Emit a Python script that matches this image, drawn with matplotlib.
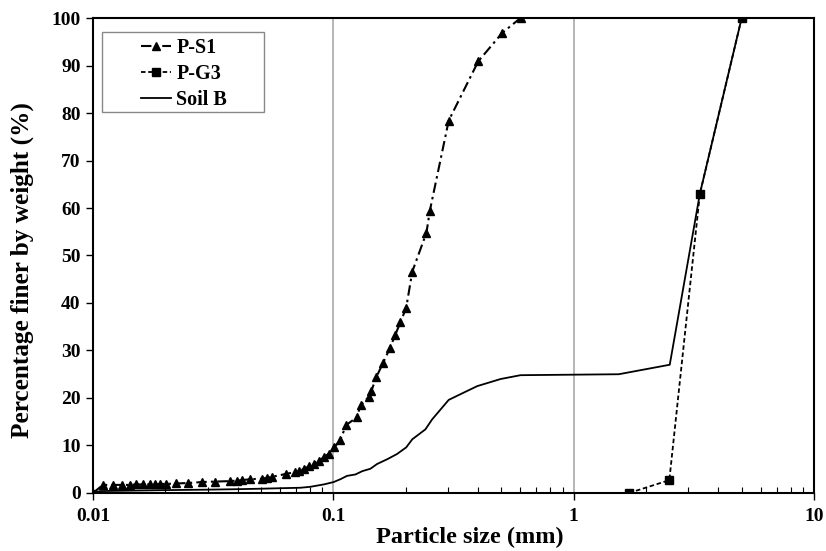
import matplotlib
matplotlib.use("Agg")
import matplotlib.pyplot as plt
from matplotlib.patches import Rectangle
from matplotlib.ticker import FixedLocator, LogLocator, NullFormatter, FixedFormatter

# ---- data ----
ps1_size = [0.01, 0.0110, 0.0121, 0.0132, 0.0142, 0.0151, 0.0161, 0.0172, 0.0181, 0.0190,
            0.0201, 0.0222, 0.0249, 0.0284, 0.0322, 0.0372, 0.0397, 0.0417, 0.0451, 0.0505,
            0.0529, 0.0555, 0.0633, 0.0694, 0.0717, 0.0752, 0.0789, 0.0828, 0.0869, 0.0912,
            0.0959, 0.101, 0.107, 0.113, 0.125, 0.130, 0.141, 0.144, 0.151, 0.161,
            0.172, 0.181, 0.190, 0.201, 0.213, 0.244, 0.252, 0.302, 0.401, 0.505, 0.601]
ps1_pass = [0.0, 1.7, 1.7, 1.7, 1.7, 1.8, 1.8, 1.8, 1.8, 1.9,
            1.9, 2.0, 2.1, 2.3, 2.4, 2.5, 2.6, 2.7, 2.9, 3.0,
            3.2, 3.4, 4.0, 4.4, 4.7, 5.0, 5.6, 6.2, 6.8, 7.5,
            8.3, 9.6, 11.2, 14.3, 15.9, 18.5, 20.3, 21.5, 24.4, 27.4,
            30.5, 33.3, 35.9, 39.0, 46.6, 54.8, 59.4, 78.4, 90.9, 96.9, 100.0]

pg3_size = [1.70, 2.50, 3.35, 5.00]
pg3_pass = [0.0, 2.7, 63.0, 100.0]

soilb_size = [0.01, 0.0107, 0.02, 0.03, 0.04, 0.05, 0.06, 0.0729, 0.0802, 0.0912,
              0.1003, 0.107, 0.114, 0.1236, 0.132, 0.1426, 0.152, 0.1675, 0.184, 0.201,
              0.213, 0.2416, 0.2577, 0.302, 0.338, 0.397, 0.497, 0.601, 1.54, 2.51,
              3.35, 5.00]
soilb_pass = [0.0, 0.4, 0.6, 0.7, 0.8, 0.9, 1.0, 1.1, 1.3, 1.8,
              2.3, 2.9, 3.6, 3.9, 4.6, 5.1, 6.1, 7.1, 8.2, 9.6,
              11.3, 13.4, 15.5, 19.6, 20.8, 22.5, 24.0, 24.8, 25.0, 27.0,
              63.0, 100.0]

x_ticks = [0.01, 0.1, 1, 10]
x_ticklabels = ["0.01", "0.1", "1", "10"]
y_ticks = list(range(0, 101, 10))

plt.rcParams['font.family'] = ['Liberation Serif', 'DejaVu Serif']
plt.rcParams['font.weight'] = 'bold'

fig = plt.figure(figsize=(8.26, 5.51), dpi=100)
ax = fig.add_axes([0.1126, 0.1053, 0.8729, 0.862])

ax.plot(ps1_size, ps1_pass, color='black', lw=1.5, dashes=(5, 2, 1.2, 2),
        marker='^', markersize=5.5, label='P-S1', zorder=3)
ax.plot(pg3_size, pg3_pass, color='black', lw=1.3, dashes=(2.5, 1.5),
        marker='s', markersize=6, label='P-G3', zorder=3)
ax.plot(soilb_size, soilb_pass, color='black', lw=1.3, label='Soil B', zorder=2)

ax.set_xscale('log')
ax.set_xlim(0.01, 10)
ax.set_ylim(0, 100)

ax.xaxis.set_major_locator(FixedLocator(x_ticks))
ax.xaxis.set_major_formatter(FixedFormatter(x_ticklabels))
ax.xaxis.set_minor_locator(LogLocator(base=10, subs=range(2, 10)))
ax.xaxis.set_minor_formatter(NullFormatter())
ax.set_yticks(y_ticks)

ax.grid(True, which='major', axis='x', color='#b0b0b0', lw=1.3)
ax.set_axisbelow(True)

ax.tick_params(axis='x', which='major', direction='out', length=5, width=1,
               labelsize=14, pad=6)
ax.tick_params(axis='x', which='minor', direction='in', length=4, width=0.8)
ax.tick_params(axis='y', which='major', direction='out', length=5, width=1,
               labelsize=14, pad=4)
for lab in ax.get_xticklabels() + ax.get_yticklabels():
    lab.set_fontweight('bold')

for s in ax.spines.values():
    s.set_linewidth(1.5)
    s.set_color('black')

ax.set_xlabel('Particle size (mm)', fontsize=17.5, fontweight='bold')
ax.xaxis.set_label_coords(0.522, -0.072)
ax.set_ylabel('Percentage finer by weight (%)', fontsize=18.2, fontweight='bold')
ax.yaxis.set_label_coords(-0.0818, 0.469)

# legend frame drawn separately to match wide box
ax.add_patch(Rectangle((0.0125, 0.802), 0.2245, 0.1685, transform=ax.transAxes,
                       facecolor='white', edgecolor='#888888', lw=1.0, zorder=4))
leg = ax.legend(loc='upper left', bbox_to_anchor=(0.0666, 0.958), frameon=False,
                prop={'weight': 'bold', 'size': 14.5}, handlelength=1.5,
                borderpad=0, labelspacing=0.3, handletextpad=0.25,
                borderaxespad=0)
leg.set_zorder(5)

fig.savefig('out.png', dpi=100)
